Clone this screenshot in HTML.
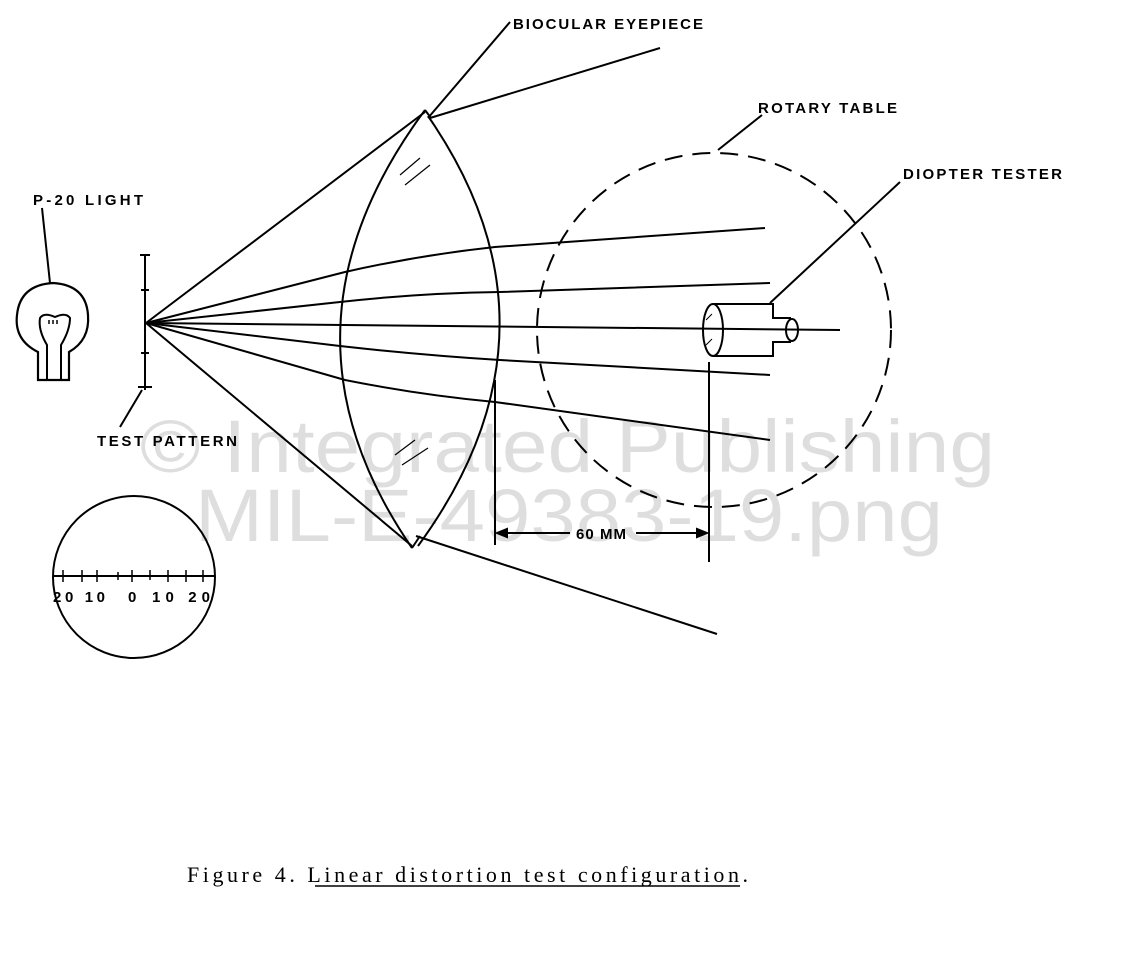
<!DOCTYPE html>
<html><head><meta charset="utf-8"><style>
html,body{margin:0;padding:0;background:#fff;}
svg{display:block;}
.l{font-family:"Liberation Sans",sans-serif;font-weight:bold;font-size:15px;fill:#000;}
</style></head><body>
<svg width="1136" height="956" viewBox="0 0 1136 956" xmlns="http://www.w3.org/2000/svg">
<g fill="none" stroke="#000" stroke-width="2">
<path d="M425,110 Q262,330 412,548"/>
<path d="M428,116 Q576,330 418,546"/>
<path d="M425,110 L431,118 M412,548 L420,536"/>
<path d="M400,175 L420,158 M405,185 L430,165 M395,455 L415,440 M402,465 L428,448" stroke-width="1.2"/>
<path d="M146,323 L425,112 M430,118 L660,48 M510,22 L428,118"/>
<path d="M146,323 L412,546 M416,536 L717,634"/>
<path d="M146,323 L345,272 Q420,255 495,247 L765,228"/>
<path d="M146,323 L340,302 Q420,293 500,292 L770,283"/>
<path d="M146,323 L840,330"/>
<path d="M146,323 L340,346 Q420,355 500,360 L770,375"/>
<path d="M146,323 L345,380 Q420,395 495,402 L770,440"/>
<circle cx="714" cy="330" r="177" stroke-dasharray="18,10"/>
<path d="M718,150 L762,115"/>
<path d="M900,182 L770,303"/>
<ellipse cx="713" cy="330" rx="10" ry="26"/>
<path d="M713,304 L773,304 L773,318 L791,318 M791,342 L773,342 L773,356 L713,356"/>
<ellipse cx="792" cy="330" rx="6" ry="11"/>
<path d="M706,320 L712,314 M706,345 L712,339" stroke-width="1"/>
<path d="M495,380 L495,545 M709,362 L709,562"/>
<path d="M497,533 L570,533 M636,533 L707,533"/>
<path d="M497,533 L507,529 L507,537 Z M707,533 L697,529 L697,537 Z" fill="#000"/>
<path d="M145,255 L145,390 M140,255 L150,255 M141,290 L149,290 M141,353 L149,353 M138,387 L152,387"/>
<path d="M142,390 L120,427"/>
<path d="M42,208 L50,283"/>
<path d="M38,380 L38,352 Q14,340 17,315 Q20,285 53,283 Q86,285 88,315 Q90,340 69,352 L69,380 Z" stroke-width="2.2"/>
<path d="M47,380 L47,345 Q38,330 40,318 Q44,312 55,317 Q66,312 70,318 Q70,330 61,345 L61,380"/>
<path d="M49,320 L49,324 M53,320 L53,324 M57,320 L57,324" stroke-width="1.5"/>
<circle cx="134" cy="577" r="81"/>
<path d="M53,576 L214,576"/>
<path d="M63,570 L63,582 M82,570 L82,582 M97,570 L97,582 M118,572 L118,580 M132,570 L132,582 M150,570 L150,580 M168,570 L168,582 M186,570 L186,582 M203,570 L203,582" stroke-width="1.5"/>
</g>
<g font-family="Liberation Sans,sans-serif" font-size="74" fill="#000" fill-opacity="0.13">
<text x="140" y="472" textLength="855" lengthAdjust="spacingAndGlyphs">© Integrated Publishing</text>
<text x="195" y="541" textLength="748" lengthAdjust="spacingAndGlyphs">MIL-E-49383-19.png</text>
</g>
<text class="l" x="513" y="29" textLength="190" lengthAdjust="spacing">BIOCULAR EYEPIECE</text>
<text class="l" x="758" y="113" textLength="139" lengthAdjust="spacing">ROTARY TABLE</text>
<text class="l" x="903" y="179" textLength="159" lengthAdjust="spacing">DIOPTER TESTER</text>
<text class="l" x="33" y="205" textLength="110" lengthAdjust="spacing">P-20 LIGHT</text>
<text class="l" x="97" y="446" textLength="140" lengthAdjust="spacing">TEST PATTERN</text>
<text class="l" x="576" y="539" textLength="50" lengthAdjust="spacing">60 MM</text>
<text class="l" x="53" y="602" textLength="52" lengthAdjust="spacing">20 10</text>
<text class="l" x="128" y="602">0</text>
<text class="l" x="152" y="602" textLength="58" lengthAdjust="spacing">10 20</text>
<text x="187" y="882" font-family="Liberation Serif,serif" font-size="22" textLength="561" lengthAdjust="spacing">Figure 4.  Linear distortion test configuration.</text>
<path d="M315,886 L740,886" stroke="#000" stroke-width="1.5"/>
</svg>
</body></html>
